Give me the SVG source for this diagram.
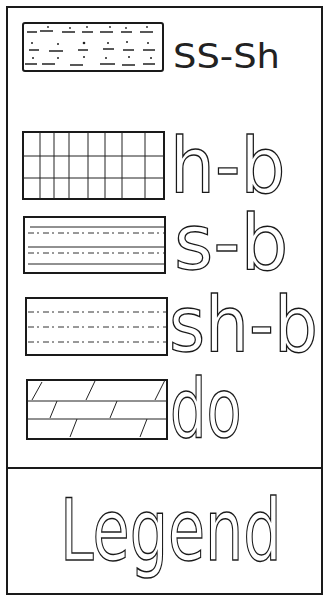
<svg xmlns="http://www.w3.org/2000/svg" width="331" height="603" viewBox="0 0 331 603">
<style>
.frame{fill:none;stroke:#1a1a1a;stroke-width:2}
.box{fill:#fff;stroke:#1a1a1a;stroke-width:2}
.ln{stroke:#222;stroke-width:1;fill:none}
.dl{stroke:#333;stroke-width:1;fill:none;stroke-dasharray:6 3 2 4}
.dash{stroke:#222;stroke-width:1.3;fill:none}
.dot{fill:#222}
.solid{font-family:"DejaVu Sans","Liberation Sans",sans-serif;font-size:34px;fill:#222}
.outl{font-family:"DejaVu Sans","Liberation Sans",sans-serif;fill:#fff;stroke:#1a1a1a;stroke-width:1.3;vector-effect:non-scaling-stroke}
</style>
<rect width="331" height="603" fill="#fff"/>
<g id="frame">
<rect class="frame" x="7" y="7" width="315" height="587"/>
<line class="frame" x1="7" y1="468" x2="322" y2="468"/>
</g>
<g id="ss-sh">
<rect class="box" x="23" y="23" width="140" height="48" rx="2"/>
<g class="dash">
<path d="M27 32h10M40 31h13M62 32h13M82 32h11M100 32h13M121 32h11M140 32h13"/>
<path d="M29 50h10M49 51h14M78 50h10M103 49h11M123 50h11M143 50h12"/>
<path d="M25 64h12M42 64h13M70 65h13M100 64h15M122 65h13M143 64h12"/>
</g>
<g class="dot">
<circle cx="48" cy="27" r="0.9"/><circle cx="70" cy="28" r="0.9"/><circle cx="87" cy="27" r="0.9"/><circle cx="110" cy="27" r="0.9"/><circle cx="126" cy="28" r="0.9"/><circle cx="147" cy="27" r="0.9"/>
<circle cx="32" cy="43" r="1"/><circle cx="58" cy="44" r="1"/><circle cx="84" cy="43" r="1.3"/><circle cx="108" cy="43" r="1"/><circle cx="127" cy="42" r="1"/><circle cx="148" cy="43" r="1"/>
<circle cx="33" cy="58" r="1"/><circle cx="58" cy="58" r="1"/><circle cx="84" cy="57" r="1"/><circle cx="106" cy="58" r="1"/><circle cx="129" cy="57" r="1"/><circle cx="151" cy="58" r="1"/>
</g>
<text class="solid" x="173" y="68" textLength="107" lengthAdjust="spacingAndGlyphs">SS-Sh</text>
</g>
<g id="h-b">
<rect class="box" x="23" y="132" width="141" height="67"/>
<path class="ln" d="M23 156H164M23 178H164M40 132V199M54 132V199M69 132V199M88 132V199M105 132V199M122 132V199M145 132V199"/>
<text class="outl" transform="translate(170,192) scale(0.92,1)" font-size="77">h-b</text>
</g>
<g id="s-b">
<rect class="box" x="24" y="217" width="141" height="56"/>
<path class="ln" d="M30 227H164M28 247H164M28 264H164"/>
<path class="dl" d="M28 233H164M28 253H164"/>
<text class="outl" transform="translate(174,269) scale(0.98,1)" font-size="77">s-b</text>
</g>
<g id="sh-b">
<rect class="box" x="26" y="298" width="141" height="57"/>
<path class="dl" d="M28 312H166M28 327H166M28 342H166"/>
<text class="outl" transform="translate(169,351) scale(0.9,1)" font-size="77">sh-b</text>
</g>
<g id="do">
<rect class="box" x="27" y="380" width="140" height="59"/>
<path class="ln" d="M27 401H167M27 419H167M32 400L42 382M86 400L95 381M155 400L165 380M50 418L57 401M110 418L117 401M70 437L77 419M140 437L147 419"/>
<text class="outl" transform="translate(170,437) scale(0.7,1)" font-size="82">do</text>
</g>
<g id="legend">
<text class="outl" transform="translate(60,560) scale(0.71,1)" font-size="85">Legend</text>
</g>
<g id="connectors"/>
</svg>
